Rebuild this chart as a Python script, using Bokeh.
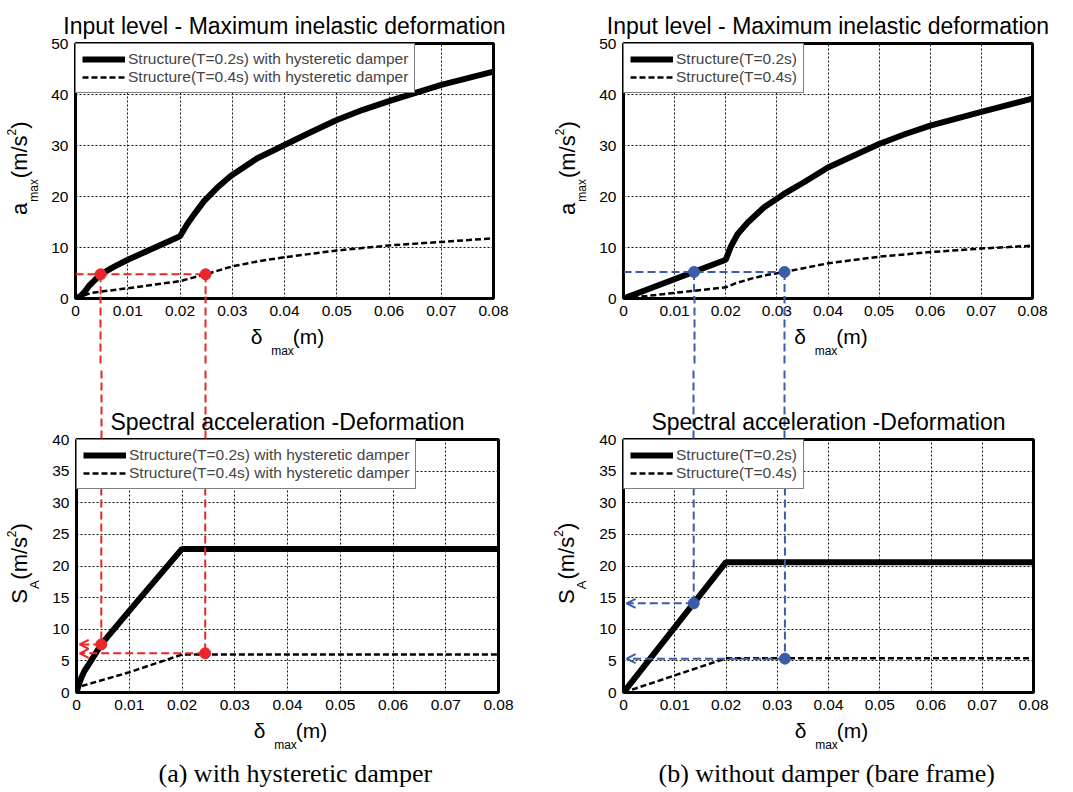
from bokeh.plotting import figure
from bokeh.layouts import column, row
from bokeh.models import (Range1d, FixedTicker, LinearAxis, Arrow, OpenHead, Title,
                          NumeralTickFormatter)
from bokeh.embed import file_html
from bokeh.resources import INLINE

# ---------------- data ----------------
x_ticks = [0, 0.01, 0.02, 0.03, 0.04, 0.05, 0.06, 0.07, 0.08]
x_tick_labels = ["0", "0.01", "0.02", "0.03", "0.04", "0.05", "0.06", "0.07", "0.08"]
input_y_ticks = [0, 10, 20, 30, 40, 50]
spectral_y_ticks = [0, 5, 10, 15, 20, 25, 30, 35, 40]

title_input = "Input level - Maximum inelastic deformation"
title_spectral = "Spectral acceleration -Deformation"
legend_a = ["Structure(T=0.2s) with hysteretic damper", "Structure(T=0.4s) with hysteretic damper"]
legend_b = ["Structure(T=0.2s)", "Structure(T=0.4s)"]
captions = ["(a) with hysteretic damper", "(b) without damper (bare frame)"]
xlabel_parts = ["δ", "max", "(m)"]
ylabel_input_parts = ["a", "max", "(m/s", "2", ")"]
ylabel_spectral_parts = ["S", "A", "(m/s", "2", ")"]

# (a) with hysteretic damper : input level vs max deformation
a_in_t02_x = [0, 0.001, 0.0019, 0.0026, 0.0035, 0.0048, 0.0075, 0.01, 0.015, 0.02, 0.0214, 0.0227,
              0.0246, 0.0271, 0.0297, 0.0348, 0.04, 0.045, 0.05, 0.055, 0.06, 0.07, 0.08]
a_in_t02_y = [0, 0.5, 1.5, 2.5, 3.4, 4.75, 6.3, 7.6, 9.9, 12.2, 14.6, 16.5,
              19.1, 21.7, 24.0, 27.5, 30.1, 32.6, 35.0, 37.0, 38.7, 41.9, 44.5]
a_in_t04_x = [0, 0.003, 0.01, 0.015, 0.02, 0.0225, 0.025, 0.03, 0.035, 0.04, 0.05, 0.06, 0.07, 0.08]
a_in_t04_y = [0, 1.1, 2.0, 2.7, 3.4, 4.1, 4.75, 6.3, 7.3, 8.1, 9.4, 10.4, 11.1, 11.8]
# (a) spectral acceleration vs deformation
a_sa_t02_x = [0, 0.0005, 0.001, 0.0015, 0.0022, 0.0047, 0.01, 0.02, 0.08]
a_sa_t02_y = [0, 1.4, 2.5, 3.4, 4.3, 7.6, 12.9, 22.7, 22.7]
a_sa_t04_x = [0, 0.0005, 0.01, 0.02, 0.08]
a_sa_t04_y = [0, 0.9, 3.2, 6.0, 6.0]
# (b) bare frame : input level
b_in_t02_x = [0, 0.02, 0.021, 0.0223, 0.0243, 0.0275, 0.0314, 0.0353, 0.04, 0.045, 0.05, 0.055, 0.06, 0.07, 0.08]
b_in_t02_y = [0, 7.6, 10.2, 12.6, 14.9, 17.9, 20.5, 22.8, 25.7, 28.0, 30.3, 32.2, 33.9, 36.6, 39.2]
b_in_t04_x = [0, 0.01, 0.02, 0.022, 0.025, 0.028, 0.0315, 0.035, 0.04, 0.05, 0.06, 0.07, 0.08]
b_in_t04_y = [0, 1.1, 2.2, 3.0, 3.9, 4.6, 5.2, 5.9, 6.9, 8.2, 9.1, 9.8, 10.35]
# (b) spectral
b_sa_t02_x = [0, 0.02, 0.08]
b_sa_t02_y = [0, 20.6, 20.6]
b_sa_t04_x = [0, 0.02, 0.08]
b_sa_t04_y = [0, 5.4, 5.4]

# read-off points
a_in_pts_x = [0.0048, 0.0249]
a_in_pts_y = [4.75, 4.75]
a_sa_pts_x = [0.0047, 0.0244]
a_sa_pts_y = [7.6, 6.2]
b_in_pts_x = [0.0138, 0.0315]
b_in_pts_y = [5.2, 5.2]
b_sa_pts_x = [0.0137, 0.0315]
b_sa_pts_y = [14.1, 5.35]

# ---------------- styling / geometry ----------------
RED = "#e8262b"
BLUE = "#3b5bab"
FONT = "Liberation Sans"
XMAX = 0.08

G_TL = dict(w=540, h=365, l=75, r=47, t=42, b=67)
G_TR = dict(w=533, h=365, l=83, r=41, t=43, b=67)
G_BL = dict(w=540, h=427, l=76, r=42, t=72, b=99)
G_BR = dict(w=533, h=427, l=83, r=40, t=74, b=100)

# x-label pieces: (font px, centre offset from frame centre px)
XL_STYLE = [(21, -28), (12, -2), (21, 24)]
# y-label pieces: (font px, advance px, gap before px)
YL_IN_STYLE = [(22, 12.2, 0), (12, 22.7, 1), (22, 42.8, 1), (12, 6.7, 0), (22, 7.3, 0)]
YL_SA_STYLE = [(22, 14.7, 0), (13, 8.7, 0), (22, 42.8, 1), (12, 6.7, 0), (22, 7.3, 0)]


def fw(g):
    return g["w"] - g["l"] - g["r"]


def fh(g):
    return g["h"] - g["t"] - g["b"]


def dx(g, px):
    return px / fw(g) * XMAX


def dy(g, ymax, px):
    return px / fh(g) * ymax


def text_axis(p, side, ticks, texts, size, standoff, vertical=False):
    ax = LinearAxis(ticker=FixedTicker(ticks=ticks), major_label_overrides=dict(zip(ticks, texts)))
    ax.axis_line_color = None
    ax.major_tick_line_color = None
    ax.minor_tick_line_color = None
    ax.major_tick_in = 0
    ax.major_tick_out = 0
    ax.minor_tick_in = 0
    ax.minor_tick_out = 0
    ax.major_label_text_font = FONT
    ax.major_label_text_font_size = f"{size}px"
    ax.major_label_text_color = "black"
    ax.major_label_standoff = standoff
    if vertical:
        ax.major_label_orientation = "vertical"
    p.add_layout(ax, side)


def conn_axis(p, side, ticks, color, t_in, t_out):
    ax = LinearAxis(ticker=FixedTicker(ticks=ticks), major_label_overrides={t: "" for t in ticks})
    ax.axis_line_color = None
    ax.major_tick_line_color = color
    ax.major_tick_line_width = 2
    ax.major_tick_line_dash = "8 4"
    ax.major_tick_in = t_in
    ax.major_tick_out = t_out
    ax.minor_tick_line_color = None
    ax.minor_tick_in = 0
    ax.minor_tick_out = 0
    ax.major_label_text_font_size = "0px"
    ax.major_label_standoff = 0
    p.add_layout(ax, side)


def add_title(p, side, text, size, standoff, font=FONT, align="center", offset=0):
    p.add_layout(Title(text=text, text_font=font, text_font_size=f"{size}px",
                       text_font_style="normal", text_color="black", align=align,
                       offset=offset, standoff=standoff), side)


def make_panel(g, ymax, yticks, title, t02, t04, labels, ylparts, ylstyle, ystart):
    p = figure(width=g["w"], height=g["h"], title=None,
               min_border_left=g["l"], min_border_right=g["r"],
               min_border_top=g["t"], min_border_bottom=g["b"],
               x_range=Range1d(0, XMAX), y_range=Range1d(0, ymax),
               output_backend="svg", toolbar_location=None, tools="")
    p.background_fill_color = "white"
    p.border_fill_color = "white"
    p.outline_line_color = "black"
    p.outline_line_width = 3

    xa, ya = p.xaxis[0], p.yaxis[0]
    xa.ticker = FixedTicker(ticks=x_ticks)
    xa.formatter = NumeralTickFormatter(format="0.[00]")
    xa.major_label_overrides = dict(zip(x_ticks, x_tick_labels))
    ya.ticker = FixedTicker(ticks=yticks)
    for ax in (xa, ya):
        ax.axis_line_color = None
        ax.major_tick_line_color = None
        ax.minor_tick_line_color = None
        ax.major_tick_in = 0
        ax.major_tick_out = 0
        ax.minor_tick_in = 0
        ax.minor_tick_out = 0
        ax.major_label_text_font = FONT
        ax.major_label_text_font_size = "15.5px"
        ax.major_label_text_color = "black"
        ax.major_label_standoff = 7
    p.grid.grid_line_color = "#111111"
    p.grid.grid_line_dash = "2 2"
    p.grid.grid_line_width = 1

    p.line(t02[0], t02[1], line_width=6, line_color="black", legend_label=labels[0])
    p.line(t04[0], t04[1], line_width=2.5, line_color="black", line_dash="6 3", legend_label=labels[1])

    leg = p.legend[0]
    leg.location = "top_left"
    leg.margin = 0
    leg.padding = 6
    leg.spacing = 0
    leg.glyph_width = 43
    leg.glyph_height = 16
    leg.label_height = 16
    leg.label_standoff = 3
    leg.label_text_font = FONT
    leg.label_text_font_size = "15.5px"
    leg.label_text_line_height = 1.0
    leg.border_line_color = "black"
    leg.border_line_width = 1.5
    leg.background_fill_alpha = 1

    # title
    add_title(p, "above", title, 23, 9)

    # x-axis label  "δ max(m)" as text bands below the tick labels
    (s_main, o1), (s_sub, o2), (_, o3) = XL_STYLE
    main_ticks = [XMAX / 2 + dx(g, o1), XMAX / 2 + dx(g, o3)]
    text_axis(p, "below", main_ticks, [xlabel_parts[0], xlabel_parts[2]], s_main, 6)
    text_axis(p, "below", [XMAX / 2 + dx(g, o2)], [xlabel_parts[1]], s_sub, -7)

    # y-axis label as rotated text bands
    pos = []
    cur = ystart
    for size, adv, gap in ylstyle:
        cur -= gap
        pos.append(ymax / 2 - dy(g, ymax, cur - adv / 2))
        cur -= adv
    text_axis(p, "left", [pos[1]], [ylparts[1]], ylstyle[1][0], 7, vertical=True)
    text_axis(p, "left", [pos[0], pos[2], pos[4]], [ylparts[0], ylparts[2], ylparts[4]],
              ylstyle[0][0], -8, vertical=True)
    text_axis(p, "left", [pos[3]], [ylparts[3]], ylstyle[3][0], -12, vertical=True)
    return p


tl = make_panel(G_TL, 50, input_y_ticks, title_input, (a_in_t02_x, a_in_t02_y),
                (a_in_t04_x, a_in_t04_y), legend_a, ylabel_input_parts, YL_IN_STYLE, 44)
tr = make_panel(G_TR, 50, input_y_ticks, title_input, (b_in_t02_x, b_in_t02_y),
                (b_in_t04_x, b_in_t04_y), legend_b, ylabel_input_parts, YL_IN_STYLE, 44)
bl = make_panel(G_BL, 40, spectral_y_ticks, title_spectral, (a_sa_t02_x, a_sa_t02_y),
                (a_sa_t04_x, a_sa_t04_y), legend_a, ylabel_spectral_parts, YL_SA_STYLE, 38)
br = make_panel(G_BR, 40, spectral_y_ticks, title_spectral, (b_sa_t02_x, b_sa_t02_y),
                (b_sa_t04_x, b_sa_t04_y), legend_b, ylabel_spectral_parts, YL_SA_STYLE, 38)

# captions (outermost band below the bottom panels)
add_title(bl, "below", captions[0], 26, 5, font="Liberation Serif", align="left", offset=82)
add_title(br, "below", captions[1], 26, 5, font="Liberation Serif", align="left", offset=35)

# read-off construction lines
for top, bot, col, tx, ty, bx, by in ((tl, bl, RED, a_in_pts_x, a_in_pts_y, a_sa_pts_x, a_sa_pts_y),
                                      (tr, br, BLUE, b_in_pts_x, b_in_pts_y, b_sa_pts_x, b_sa_pts_y)):
    # upper panel: horizontal from the axis to the points, vertical down out of the frame
    top.segment(x0=[0], y0=[ty[0]], x1=[max(tx)], y1=[ty[0]], line_color=col, line_width=2, line_dash="8 4")
    top.segment(x0=tx, y0=ty, x1=tx, y1=[0] * len(tx), line_color=col, line_width=2, line_dash="8 4")
    top.scatter(tx, ty, size=11, color=col)
    conn_axis(top, "below", tx, col, 64, 3)
    # lower panel: vertical in from the top, arrows to the S_A axis
    bot.segment(x0=bx, y0=[40] * len(bx), x1=bx, y1=by, line_color=col, line_width=2, line_dash="8 4")
    for xv, yv in zip(bx, by):
        bot.add_layout(Arrow(end=OpenHead(size=9, line_color=col, line_width=2),
                             x_start=xv, y_start=yv, x_end=0.0006, y_end=yv,
                             line_color=col, line_width=2, line_dash="8 4"))
    bot.scatter(bx, by, size=11, color=col)
    conn_axis(bot, "above", bx, col, 39, 32)

layout = column(row(tl, tr), row(bl, br))
open("out.html", "w").write(file_html(layout, INLINE))
